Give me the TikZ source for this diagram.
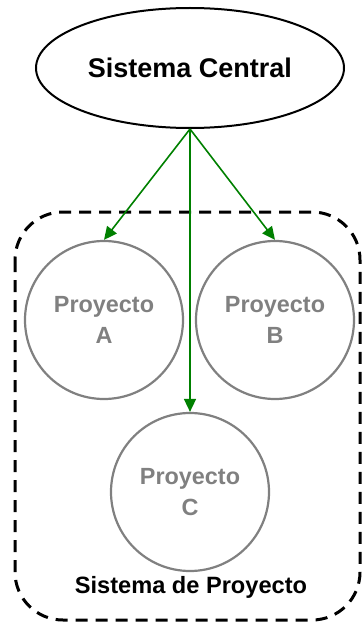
\documentclass[tikz,border=0pt]{standalone}
\usepackage{fontspec}
\setmainfont{Liberation Sans}
\usetikzlibrary{arrows.meta,shapes.geometric}
\definecolor{linkgreen}{RGB}{0,128,0}
\definecolor{projgray}{RGB}{128,128,128}
\begin{document}
\begin{tikzpicture}[x=1pt,y=-1pt,
  central/.style={ellipse,draw=black,line width=2pt,minimum width=308pt,minimum height=120pt,
    font=\bfseries\fontsize{27}{30}\selectfont,inner sep=0pt},
  project/.style={circle,draw=projgray,line width=2.2pt,minimum size=158pt,inner sep=0pt,
    text=projgray,align=center,font=\bfseries\fontsize{23.4}{31}\selectfont},
  group/.style={draw=black,line width=3pt,dash pattern=on 12pt off 8pt,rounded corners=48pt},
  link/.style={draw=linkgreen,line width=1.6pt,-{Triangle[length=13pt,width=12pt]},
    color=linkgreen}]
  \useasboundingbox (0,0) rectangle (362,623);
  % dashed boundary of the project system
  \draw[group] (15,212) coordinate (gtl) rectangle (360,620) coordinate (gbr);
  \node[font=\bfseries\fontsize{23.6}{28}\selectfont,anchor=base] (glabel) at (191,593) {Sistema de Proyecto};
  % central system
  \node[central] (sc) at (190,68) {Sistema Central};
  % projects
  \node[project] (pa) at (104,320) {Proyecto\\A};
  \node[project] (pb) at (275,320) {Proyecto\\B};
  \node[project] (pc) at (190,492) {Proyecto\\C};
  % links
  \draw[link] (sc.south) -- (pa.north);
  \draw[link] (sc.south) -- (pb.north);
  \draw[link] (sc.south) -- (pc.north);
\end{tikzpicture}
\end{document}
